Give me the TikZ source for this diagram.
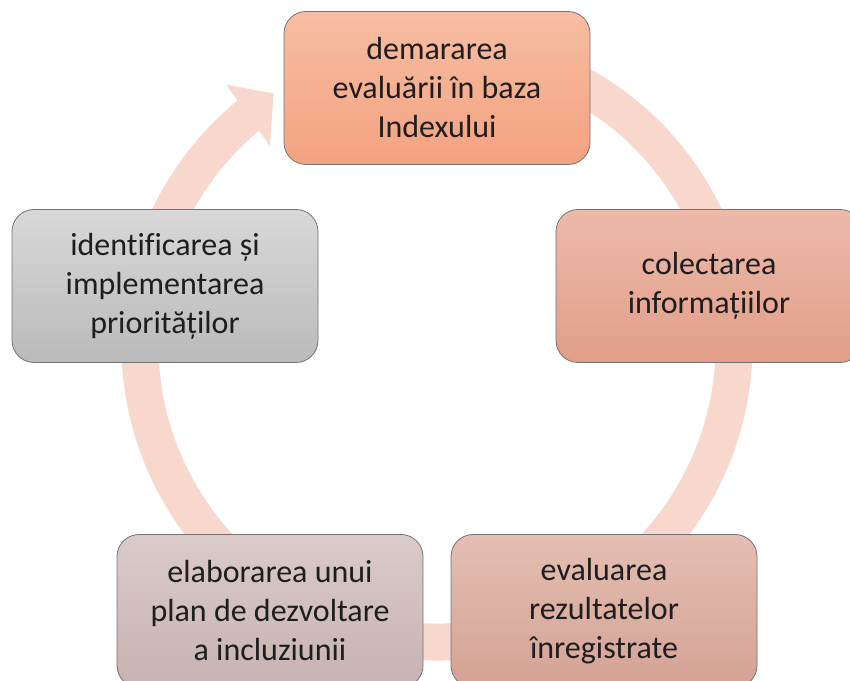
\documentclass[tikz,border=0pt]{standalone}
\usepackage{fontspec}
\setmainfont{Carlito}[RawFeature={-liga;-clig;-dlig}]
\usetikzlibrary{calc}
\definecolor{ringpink}{RGB}{248,216,205}
\definecolor{textgray}{RGB}{30,30,30}
\definecolor{salmonA}{RGB}{247,189,163}
\definecolor{salmonB}{RGB}{243,162,128}
\definecolor{roseA}{RGB}{236,186,170}
\definecolor{roseB}{RGB}{226,158,137}
\definecolor{dustA}{RGB}{228,190,178}
\definecolor{dustB}{RGB}{212,162,149}
\definecolor{mauveA}{RGB}{218,202,202}
\definecolor{mauveB}{RGB}{200,178,178}
\definecolor{greyA}{RGB}{216,216,216}
\definecolor{greyB}{RGB}{186,186,186}
\tikzset{
	stage/.style={draw=black!55, line width=0.8pt, rounded corners=22pt,
		minimum width=306pt, minimum height=153pt, inner sep=0pt,
		align=center, text=textgray, font=\fontsize{32}{39}\selectfont},
}

\begin{document}
\begin{tikzpicture}[x=1pt,y=1pt]
		%%%%% START %%%%%
		
		\useasboundingbox (0,0) rectangle (850,680);
		\clip (0,0) rectangle (850,680);
		
		\coordinate (c) at (437,335);
		\draw[line width=37pt, color=ringpink] ($(c)+(118:297pt)$) arc (118:-231:297pt);
		\fill[ringpink] ($(c)+(129:335pt)$) -- ($(c)+(123:300pt)$) -- ($(c)+(130:260pt)$) -- cycle;
		
		\node[stage, top color=salmonA, bottom color=salmonB] (demarare) at (437,592) {demararea\\evaluării în baza\\Indexului};
		\node[stage, top color=roseA, bottom color=roseB] (colectare) at (709,394) {colectarea\\informațiilor};
		\node[stage, top color=dustA, bottom color=dustB] (evaluare) at (604,69) {evaluarea\\rezultatelor\\înregistrate};
		\node[stage, top color=mauveA, bottom color=mauveB] (elaborare) at (270,69) {elaborarea unui\\plan de dezvoltare\\a incluziunii};
		\node[stage, top color=greyA, bottom color=greyB] (prioritati) at (165,394) {identificarea și\\implementarea\\priorităților};
		
		%%%%% END %%%%%
	\end{tikzpicture}
\end{document}
